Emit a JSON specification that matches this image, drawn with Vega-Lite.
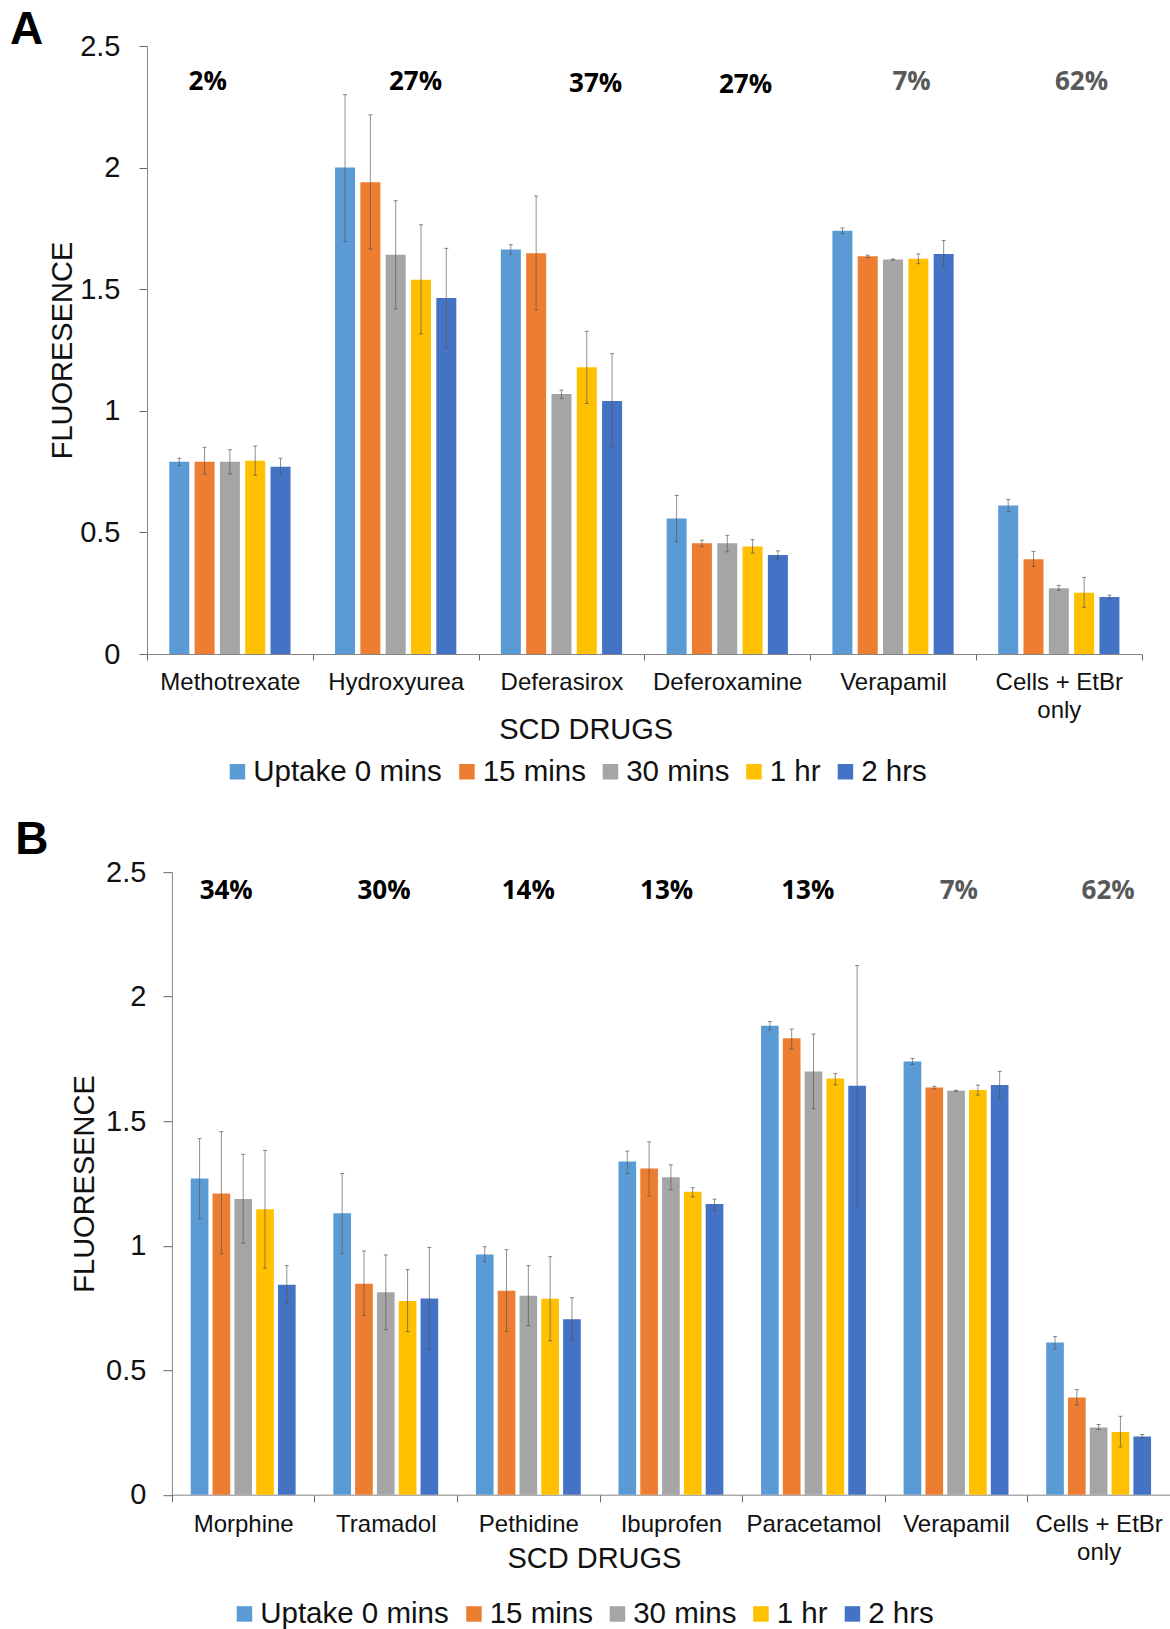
{
"$schema":"https://vega.github.io/schema/vega-lite/v6.json",
"background":"white",
"padding":{"left":10,"top":7,"right":0,"bottom":0},
"config":{"view":{"stroke":null},"font":"Liberation Sans","axis":{"grid":false,"labelFont":"Liberation Sans","titleFont":"Liberation Sans","labelColor":"#111111","titleColor":"#111111","domainColor":"#868686","tickColor":"#686868","titleFontWeight":"normal"},"legend":{"labelFont":"Liberation Sans"}},
"datasets":{
"a":[
{"drug":"Methotrexate","time":"Uptake 0 mins","value":0.79,"lo":0.775,"hi":0.805},
{"drug":"Methotrexate","time":"15 mins","value":0.79,"lo":0.74,"hi":0.85},
{"drug":"Methotrexate","time":"30 mins","value":0.79,"lo":0.74,"hi":0.84},
{"drug":"Methotrexate","time":"1 hr","value":0.795,"lo":0.735,"hi":0.855},
{"drug":"Methotrexate","time":"2 hrs","value":0.77,"lo":0.735,"hi":0.805},
{"drug":"Hydroxyurea","time":"Uptake 0 mins","value":2.0,"lo":1.696,"hi":2.3},
{"drug":"Hydroxyurea","time":"15 mins","value":1.94,"lo":1.665,"hi":2.217},
{"drug":"Hydroxyurea","time":"30 mins","value":1.642,"lo":1.419,"hi":1.864},
{"drug":"Hydroxyurea","time":"1 hr","value":1.539,"lo":1.316,"hi":1.765},
{"drug":"Hydroxyurea","time":"2 hrs","value":1.464,"lo":1.26,"hi":1.668},
{"drug":"Deferasirox","time":"Uptake 0 mins","value":1.663,"lo":1.643,"hi":1.683},
{"drug":"Deferasirox","time":"15 mins","value":1.648,"lo":1.415,"hi":1.883},
{"drug":"Deferasirox","time":"30 mins","value":1.069,"lo":1.05,"hi":1.085},
{"drug":"Deferasirox","time":"1 hr","value":1.179,"lo":1.03,"hi":1.327},
{"drug":"Deferasirox","time":"2 hrs","value":1.04,"lo":0.852,"hi":1.235},
{"drug":"Deferoxamine","time":"Uptake 0 mins","value":0.557,"lo":0.461,"hi":0.652},
{"drug":"Deferoxamine","time":"15 mins","value":0.455,"lo":0.441,"hi":0.468},
{"drug":"Deferoxamine","time":"30 mins","value":0.455,"lo":0.42,"hi":0.488},
{"drug":"Deferoxamine","time":"1 hr","value":0.442,"lo":0.415,"hi":0.47},
{"drug":"Deferoxamine","time":"2 hrs","value":0.407,"lo":0.39,"hi":0.424},
{"drug":"Verapamil","time":"Uptake 0 mins","value":1.74,"lo":1.728,"hi":1.752},
{"drug":"Verapamil","time":"15 mins","value":1.635,"lo":1.63,"hi":1.64},
{"drug":"Verapamil","time":"30 mins","value":1.622,"lo":1.62,"hi":1.624},
{"drug":"Verapamil","time":"1 hr","value":1.625,"lo":1.605,"hi":1.645},
{"drug":"Verapamil","time":"2 hrs","value":1.645,"lo":1.59,"hi":1.7},
{"drug":"Cells + EtBr only","time":"Uptake 0 mins","value":0.611,"lo":0.586,"hi":0.635},
{"drug":"Cells + EtBr only","time":"15 mins","value":0.39,"lo":0.36,"hi":0.422},
{"drug":"Cells + EtBr only","time":"30 mins","value":0.27,"lo":0.262,"hi":0.282},
{"drug":"Cells + EtBr only","time":"1 hr","value":0.252,"lo":0.192,"hi":0.315},
{"drug":"Cells + EtBr only","time":"2 hrs","value":0.234,"lo":0.227,"hi":0.242}
],
"b":[
{"drug":"Morphine","time":"Uptake 0 mins","value":1.27,"lo":1.108,"hi":1.43},
{"drug":"Morphine","time":"15 mins","value":1.21,"lo":0.967,"hi":1.458},
{"drug":"Morphine","time":"30 mins","value":1.188,"lo":1.01,"hi":1.367},
{"drug":"Morphine","time":"1 hr","value":1.146,"lo":0.91,"hi":1.383},
{"drug":"Morphine","time":"2 hrs","value":0.843,"lo":0.768,"hi":0.92},
{"drug":"Tramadol","time":"Uptake 0 mins","value":1.13,"lo":0.969,"hi":1.29},
{"drug":"Tramadol","time":"15 mins","value":0.847,"lo":0.719,"hi":0.979},
{"drug":"Tramadol","time":"30 mins","value":0.813,"lo":0.663,"hi":0.963},
{"drug":"Tramadol","time":"1 hr","value":0.778,"lo":0.655,"hi":0.904},
{"drug":"Tramadol","time":"2 hrs","value":0.788,"lo":0.585,"hi":0.993},
{"drug":"Pethidine","time":"Uptake 0 mins","value":0.965,"lo":0.936,"hi":0.996},
{"drug":"Pethidine","time":"15 mins","value":0.819,"lo":0.655,"hi":0.984},
{"drug":"Pethidine","time":"30 mins","value":0.799,"lo":0.679,"hi":0.92},
{"drug":"Pethidine","time":"1 hr","value":0.787,"lo":0.618,"hi":0.956},
{"drug":"Pethidine","time":"2 hrs","value":0.705,"lo":0.622,"hi":0.791},
{"drug":"Ibuprofen","time":"Uptake 0 mins","value":1.338,"lo":1.29,"hi":1.38},
{"drug":"Ibuprofen","time":"15 mins","value":1.31,"lo":1.2,"hi":1.417},
{"drug":"Ibuprofen","time":"30 mins","value":1.275,"lo":1.225,"hi":1.325},
{"drug":"Ibuprofen","time":"1 hr","value":1.217,"lo":1.196,"hi":1.233},
{"drug":"Ibuprofen","time":"2 hrs","value":1.167,"lo":1.14,"hi":1.187},
{"drug":"Paracetamol","time":"Uptake 0 mins","value":1.883,"lo":1.867,"hi":1.9},
{"drug":"Paracetamol","time":"15 mins","value":1.833,"lo":1.79,"hi":1.87},
{"drug":"Paracetamol","time":"30 mins","value":1.7,"lo":1.55,"hi":1.85},
{"drug":"Paracetamol","time":"1 hr","value":1.671,"lo":1.646,"hi":1.692},
{"drug":"Paracetamol","time":"2 hrs","value":1.642,"lo":1.16,"hi":2.125},
{"drug":"Verapamil","time":"Uptake 0 mins","value":1.74,"lo":1.728,"hi":1.752},
{"drug":"Verapamil","time":"15 mins","value":1.635,"lo":1.63,"hi":1.64},
{"drug":"Verapamil","time":"30 mins","value":1.622,"lo":1.62,"hi":1.624},
{"drug":"Verapamil","time":"1 hr","value":1.625,"lo":1.605,"hi":1.645},
{"drug":"Verapamil","time":"2 hrs","value":1.645,"lo":1.59,"hi":1.7},
{"drug":"Cells + EtBr only","time":"Uptake 0 mins","value":0.611,"lo":0.586,"hi":0.635},
{"drug":"Cells + EtBr only","time":"15 mins","value":0.39,"lo":0.36,"hi":0.422},
{"drug":"Cells + EtBr only","time":"30 mins","value":0.27,"lo":0.262,"hi":0.282},
{"drug":"Cells + EtBr only","time":"1 hr","value":0.252,"lo":0.192,"hi":0.315},
{"drug":"Cells + EtBr only","time":"2 hrs","value":0.234,"lo":0.227,"hi":0.242}
],
"la":[
{"label":"2%","pos":0.366,"level":2.354,"kind":"drug"},
{"label":"27%","pos":1.62,"level":2.35,"kind":"drug"},
{"label":"37%","pos":2.706,"level":2.345,"kind":"drug"},
{"label":"27%","pos":3.61,"level":2.34,"kind":"drug"},
{"label":"7%","pos":4.612,"level":2.354,"kind":"control"},
{"label":"62%","pos":5.637,"level":2.354,"kind":"control"}
],
"lb":[
{"label":"34%","pos":0.381,"level":2.424,"kind":"drug"},
{"label":"30%","pos":1.488,"level":2.424,"kind":"drug"},
{"label":"14%","pos":2.5,"level":2.424,"kind":"drug"},
{"label":"13%","pos":3.47,"level":2.424,"kind":"drug"},
{"label":"13%","pos":4.46,"level":2.424,"kind":"drug"},
{"label":"7%","pos":5.52,"level":2.424,"kind":"control"},
{"label":"62%","pos":6.567,"level":2.424,"kind":"control"}
]
},
"bounds":"flush",
"spacing":218.2,
"align":"none",
"resolve":{"scale":{"color":"independent","x":"independent","y":"independent","xOffset":"independent"},"legend":{"color":"independent"}},
"vconcat":[
{
"width":994.7,"height":608,
"title":{"text":"A","anchor":"start","frame":"group","fontSize":46,"fontWeight":"bold","font":"Liberation Sans","color":"#000000","dx":-137,"offset":0,"dy":22},
"resolve":{"scale":{"x":"independent","color":"independent"},"axis":{"x":"independent"}},
"layer":[
{"data":{"name":"a"},
"encoding":{
"x":{"field":"drug","type":"nominal","sort":["Methotrexate","Hydroxyurea","Deferasirox","Deferoxamine","Verapamil","Cells + EtBr only"],"scale":{"paddingInner":0,"paddingOuter":0},"axis":{"title":"SCD DRUGS","titleFontSize":29,"titleX":438.7,"titleY":75.6,"titleBaseline":"middle","labelAngle":0,"labelFontSize":24,"labelPadding":10,"labelLineHeight":28,"tickBand":"extent","tickSize":6,"labelExpr":"datum.label == 'Cells + EtBr only' ? ['Cells + EtBr','only'] : datum.label"}},
"xOffset":{"field":"time","type":"nominal","sort":["Uptake 0 mins","15 mins","30 mins","1 hr","2 hrs"],"scale":{"paddingInner":0.21,"paddingOuter":0.88,"range":[0,165.8]}}
},
"layer":[
{"mark":{"type":"bar"},"encoding":{
"y":{"field":"value","type":"quantitative","scale":{"domain":[0,2.5],"nice":false},"axis":{"title":"FLUORESENCE","titleFontSize":29,"titleX":-85,"titleBaseline":"middle","labelFontSize":29,"tickSize":8,"labelPadding":19,"values":[0,0.5,1,1.5,2,2.5],"format":"~g"}},
"color":{"field":"time","type":"nominal","scale":{"domain":["Uptake 0 mins","15 mins","30 mins","1 hr","2 hrs"],"range":["#5B9BD5","#ED7D31","#A5A5A5","#FFC000","#4472C4"]},"legend":{"title":null,"orient":"none","legendX":75.7,"legendY":711,"direction":"horizontal","columns":5,"gridAlign":"none","columnPadding":9.5,"labelFontSize":29.5,"labelLimit":400,"labelColor":"#111111","labelOffset":1,"symbolType":"square","symbolSize":240,"symbolStrokeWidth":0}}
}},
{"mark":{"type":"rule","stroke":"#555555","strokeOpacity":0.65,"strokeWidth":1},"encoding":{"y":{"field":"lo","type":"quantitative","scale":{"domain":[0,2.5],"nice":false}},"y2":{"field":"hi"}}},
{"mark":{"type":"tick","color":"#555555","opacity":0.7,"size":4,"thickness":1},"encoding":{"y":{"field":"lo","type":"quantitative","scale":{"domain":[0,2.5],"nice":false}}}},
{"mark":{"type":"tick","color":"#555555","opacity":0.7,"size":4,"thickness":1},"encoding":{"y":{"field":"hi","type":"quantitative","scale":{"domain":[0,2.5],"nice":false}}}}
]},
{"data":{"name":"la"},
"mark":{"type":"text","font":"Open Sans","fontWeight":"bold","fontSize":26,"baseline":"middle"},
"encoding":{
"x":{"field":"pos","type":"quantitative","scale":{"domain":[0,6]},"axis":null},
"y":{"field":"level","type":"quantitative","scale":{"domain":[0,2.5],"nice":false}},
"text":{"field":"label"},
"color":{"field":"kind","type":"nominal","scale":{"domain":["drug","control"],"range":["#000000","#595959"]},"legend":null}
}}
]
},
{
"width":1023,"height":622.5,
"title":{"text":"B","anchor":"start","frame":"group","fontSize":46,"fontWeight":"bold","font":"Liberation Sans","color":"#000000","dx":-131.7,"offset":0,"dy":6},
"resolve":{"scale":{"x":"independent","color":"independent"},"axis":{"x":"independent"}},
"layer":[
{"data":{"name":"b"},
"encoding":{
"x":{"field":"drug","type":"nominal","sort":["Morphine","Tramadol","Pethidine","Ibuprofen","Paracetamol","Verapamil","Cells + EtBr only"],"scale":{"paddingInner":0,"paddingOuter":0,"range":[24.9,1022.9]},"axis":{"title":"SCD DRUGS","titleFontSize":29,"titleX":446.9,"titleY":64,"titleBaseline":"middle","labelAngle":0,"labelFontSize":24,"labelPadding":11,"labelLineHeight":28,"tickBand":"extent","tickSize":7,"labelExpr":"datum.label == 'Cells + EtBr only' ? ['Cells + EtBr','only'] : datum.label"}},
"xOffset":{"field":"time","type":"nominal","sort":["Uptake 0 mins","15 mins","30 mins","1 hr","2 hrs"],"scale":{"paddingInner":0.19,"paddingOuter":0.865,"range":[0,142.6]}}
},
"layer":[
{"mark":{"type":"bar"},"encoding":{
"y":{"field":"value","type":"quantitative","scale":{"domain":[0,2.5],"nice":false},"axis":{"title":"FLUORESENCE","titleFontSize":29,"offset":-24.9,"titleX":-87,"titleBaseline":"middle","labelFontSize":29,"tickSize":9,"labelPadding":17,"values":[0,0.5,1,1.5,2,2.5],"format":"~g"}},
"color":{"field":"time","type":"nominal","scale":{"domain":["Uptake 0 mins","15 mins","30 mins","1 hr","2 hrs"],"range":["#5B9BD5","#ED7D31","#A5A5A5","#FFC000","#4472C4"]},"legend":{"title":null,"orient":"none","legendX":82.7,"legendY":727,"direction":"horizontal","columns":5,"gridAlign":"none","columnPadding":9.5,"labelFontSize":29.5,"labelLimit":400,"labelColor":"#111111","labelOffset":1,"symbolType":"square","symbolSize":240,"symbolStrokeWidth":0}}
}},
{"mark":{"type":"rule","stroke":"#555555","strokeOpacity":0.65,"strokeWidth":1},"encoding":{"y":{"field":"lo","type":"quantitative","scale":{"domain":[0,2.5],"nice":false}},"y2":{"field":"hi"}}},
{"mark":{"type":"tick","color":"#555555","opacity":0.7,"size":4,"thickness":1},"encoding":{"y":{"field":"lo","type":"quantitative","scale":{"domain":[0,2.5],"nice":false}}}},
{"mark":{"type":"tick","color":"#555555","opacity":0.7,"size":4,"thickness":1},"encoding":{"y":{"field":"hi","type":"quantitative","scale":{"domain":[0,2.5],"nice":false}}}}
]},
{"data":{"name":"lb"},
"mark":{"type":"text","font":"Open Sans","fontWeight":"bold","fontSize":26,"baseline":"middle"},
"encoding":{
"x":{"field":"pos","type":"quantitative","scale":{"domain":[0,7],"range":[24.9,1022.9]},"axis":null},
"y":{"field":"level","type":"quantitative","scale":{"domain":[0,2.5],"nice":false}},
"text":{"field":"label"},
"color":{"field":"kind","type":"nominal","scale":{"domain":["drug","control"],"range":["#000000","#595959"]},"legend":null}
}}
]
}
]
}
